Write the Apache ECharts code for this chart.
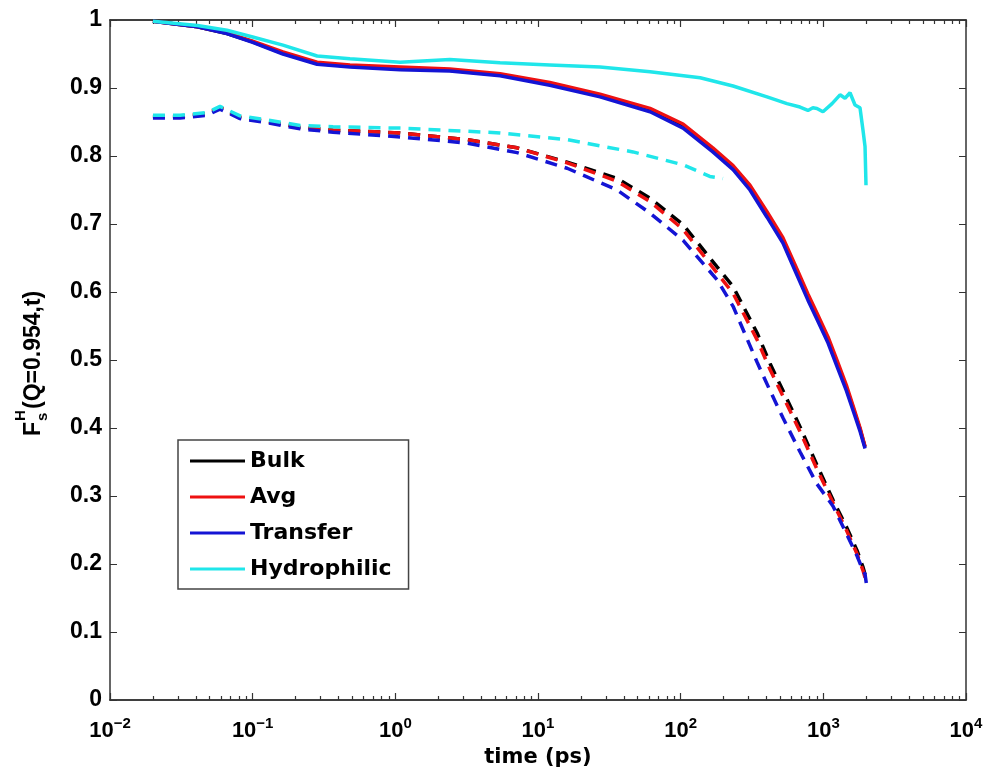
<!DOCTYPE html>
<html>
<head>
<meta charset="utf-8">
<script src="https://cdn.jsdelivr.net/npm/echarts@6/dist/echarts.min.js"></script>
<style>
  html, body { margin: 0; padding: 0; background: #fff; }
  #chart { width: 989px; height: 769px; }
</style>
</head>
<body>
<div id="chart"></div>
<script>
// time (ps) for the bulk / avg / transfer solid curves
const solidTime = [0.02, 0.041, 0.066, 0.1, 0.163, 0.283, 0.481, 1.08, 2.41, 5.42, 12.1, 27.2, 61, 104, 168, 233, 306, 403, 521, 653, 780, 902, 1079, 1250, 1450, 1620, 1810, 1960];
const bulkSolid = [0.998, 0.990, 0.980, 0.968, 0.951, 0.936, 0.932, 0.929, 0.926, 0.919, 0.906, 0.889, 0.868, 0.844, 0.809, 0.783, 0.754, 0.714, 0.676, 0.630, 0.593, 0.565, 0.530, 0.495, 0.459, 0.429, 0.398, 0.372];
const avgSolid = [0.998, 0.990, 0.981, 0.969, 0.953, 0.938, 0.934, 0.931, 0.928, 0.921, 0.908, 0.891, 0.870, 0.847, 0.812, 0.786, 0.757, 0.718, 0.680, 0.634, 0.597, 0.569, 0.534, 0.499, 0.463, 0.432, 0.400, 0.373];
const transferSolid = [0.998, 0.990, 0.980, 0.967, 0.950, 0.935, 0.931, 0.927, 0.925, 0.918, 0.904, 0.887, 0.865, 0.841, 0.806, 0.780, 0.750, 0.710, 0.672, 0.625, 0.588, 0.560, 0.525, 0.490, 0.455, 0.425, 0.395, 0.370];

const hydroSolidTime = [0.02, 0.041, 0.066, 0.1, 0.163, 0.283, 0.481, 1.08, 2.41, 5.42, 12.1, 27.2, 61, 137, 233, 403, 556, 686, 780, 845, 902, 994, 1151, 1309, 1419, 1538, 1668, 1807, 1897, 1960, 1991];
const hydroSolid = [0.998, 0.992, 0.985, 0.975, 0.963, 0.947, 0.943, 0.938, 0.942, 0.937, 0.934, 0.931, 0.924, 0.915, 0.903, 0.887, 0.877, 0.872, 0.867, 0.871, 0.870, 0.865, 0.877, 0.890, 0.885, 0.893, 0.875, 0.871, 0.838, 0.814, 0.757];

// time (ps) for the bulk / avg / transfer dashed curves
const dashTime = [0.02, 0.031, 0.048, 0.059, 0.0815, 0.126, 0.215, 0.366, 1.08, 3.18, 7.13, 16.0, 35.8, 61, 104, 180, 233, 343, 423, 521, 686, 900, 1170, 1450, 1722, 1900, 1960, 2000];
const bulkDash = [0.858, 0.858, 0.862, 0.871, 0.857, 0.851, 0.842, 0.838, 0.834, 0.824, 0.812, 0.791, 0.767, 0.738, 0.699, 0.637, 0.608, 0.540, 0.495, 0.455, 0.402, 0.346, 0.294, 0.255, 0.220, 0.195, 0.185, 0.178];
const avgDash = [0.858, 0.858, 0.862, 0.871, 0.857, 0.851, 0.842, 0.838, 0.834, 0.824, 0.812, 0.790, 0.763, 0.733, 0.692, 0.628, 0.598, 0.530, 0.486, 0.447, 0.395, 0.340, 0.290, 0.250, 0.215, 0.190, 0.180, 0.176];
const transferDash = [0.856, 0.856, 0.860, 0.869, 0.855, 0.849, 0.840, 0.835, 0.828, 0.819, 0.805, 0.782, 0.750, 0.716, 0.676, 0.618, 0.579, 0.497, 0.455, 0.415, 0.365, 0.318, 0.285, 0.245, 0.212, 0.190, 0.185, 0.172];

const hydroDashTime = [0.02, 0.031, 0.048, 0.059, 0.0815, 0.126, 0.215, 0.366, 1.08, 5.42, 16.0, 46.3, 104, 160, 198];
const hydroDash = [0.860, 0.860, 0.864, 0.873, 0.859, 0.853, 0.845, 0.843, 0.841, 0.834, 0.824, 0.806, 0.787, 0.770, 0.767];

const names = ['Bulk', 'Avg', 'Transfer', 'Hydrophilic'];
const colors = ['#000000', '#ee1111', '#1414d4', '#20e6ea'];
const majorTicks = [0.01, 0.1, 1, 10, 100, 1000, 10000];
const minorTicks = [];
majorTicks.slice(0, -1).forEach(d => {
  for (let k = 2; k <= 9; k++) minorTicks.push(+(d * k).toPrecision(3));
});

const zip = (t, v) => t.map((x, i) => [x, v[i]]);
const axisColor = '#333';
const tickFont = 'Liberation Sans';

function lineSeries(name, t, v, color, dashed) {
  return {
    name: name,
    type: 'line',
    data: zip(t, v),
    showSymbol: false,
    symbol: 'none',
    color: color,
    lineStyle: {
      color: color,
      width: 3.5,
      type: dashed ? [12, 8] : 'solid'
    }
  };
}

function logAxis(position, ticks, len, labels) {
  return {
    type: 'log',
    logBase: 10,
    min: 0.01,
    max: 10000,
    position: position,
    axisLine: { show: true, onZero: false, lineStyle: { color: axisColor, width: 1.5 } },
    axisTick: { show: true, inside: true, length: len, customValues: ticks, lineStyle: { color: axisColor, width: 1.2 } },
    axisLabel: {
      show: labels,
      customValues: majorTicks,
      margin: 16,
      formatter: value => {
        const e = Math.round(Math.log10(value));
        return '{b|10}{s|' + (e < 0 ? '\u2212' + (-e) : e) + '}';
      },
      rich: {
        b: { fontFamily: tickFont, fontWeight: 'bold', fontSize: 22, color: '#000', verticalAlign: 'bottom', lineHeight: 22 },
        s: { fontFamily: tickFont, fontWeight: 'bold', fontSize: 15, color: '#000', verticalAlign: 'bottom', padding: [0, 0, 11, 0] }
      }
    },
    splitLine: { show: false }
  };
}

const chart = echarts.init(document.getElementById('chart'));

const series = [];
names.forEach((n, i) => {
  const st = i === 3 ? hydroSolidTime : solidTime;
  const sv = [bulkSolid, avgSolid, transferSolid, hydroSolid][i];
  series.push(lineSeries(n, st, sv, colors[i], false));
});
names.forEach((n, i) => {
  const dt = i === 3 ? hydroDashTime : dashTime;
  const dv = [bulkDash, avgDash, transferDash, hydroDash][i];
  series.push(lineSeries(n, dt, dv, colors[i], true));
});

const xBottom = logAxis('bottom', majorTicks, 7, true);
xBottom.name = 'time (ps)';
xBottom.nameLocation = 'middle';
xBottom.nameGap = 42;
xBottom.nameTextStyle = { fontFamily: 'DejaVu Sans', fontWeight: 'bold', fontSize: 21, color: '#000' };

function valueAxis(position, labels) {
  return {
    type: 'value',
    min: 0,
    max: 1,
    interval: 0.1,
    position: position,
    axisLine: { show: true, onZero: false, lineStyle: { color: axisColor, width: 1.5 } },
    axisTick: { show: true, inside: true, length: 7, lineStyle: { color: axisColor } },
    axisLabel: {
      show: labels,
      margin: 8,
      fontFamily: tickFont,
      fontWeight: 'bold',
      fontSize: 23,
      color: '#000',
      formatter: v => String(+v.toFixed(1))
    },
    splitLine: { show: false }
  };
}

const option = {
  backgroundColor: '#fff',
  animation: false,
  grid: { left: 110, right: 23, top: 20, bottom: 69, containLabel: false, outerBoundsMode: 'none' },
  xAxis: [
    xBottom,
    logAxis('bottom', minorTicks, 4, false),
    logAxis('top', majorTicks, 7, false),
    logAxis('top', minorTicks, 4, false)
  ],
  yAxis: [valueAxis('left', true), valueAxis('right', false)],
  legend: {
    data: names,
    orient: 'vertical',
    left: 178,
    top: 440,
    icon: 'rect',
    itemWidth: 55,
    itemHeight: 3,
    itemGap: 14,
    padding: [10, 17, 9, 12],
    borderColor: '#444',
    borderWidth: 1.5,
    backgroundColor: '#fff',
    textStyle: { fontFamily: 'DejaVu Sans', fontWeight: 'bold', fontSize: 22, lineHeight: 21, color: '#000' }
  },
  graphic: [
    {
      type: 'group',
      x: 34,
      y: 436,
      rotation: Math.PI / 2,
      children: [
        { type: 'text', x: 0, y: 0, style: { text: 'F', fontFamily: tickFont, fontWeight: 'bold', fontSize: 23, fill: '#000', verticalAlign: 'middle', align: 'left' } },
        { type: 'text', x: 15, y: -13, style: { text: 'H', fontFamily: tickFont, fontWeight: 'bold', fontSize: 15, fill: '#000', verticalAlign: 'middle', align: 'left' } },
        { type: 'text', x: 15, y: 9, style: { text: 's', fontFamily: tickFont, fontWeight: 'bold', fontSize: 15, fill: '#000', verticalAlign: 'middle', align: 'left' } },
        { type: 'text', x: 27, y: 0, style: { text: '(Q=0.954,t)', fontFamily: tickFont, fontWeight: 'bold', fontSize: 23, fill: '#000', verticalAlign: 'middle', align: 'left' } }
      ]
    }
  ],
  series: series
};

chart.setOption(option);
</script>
</body>
</html>
